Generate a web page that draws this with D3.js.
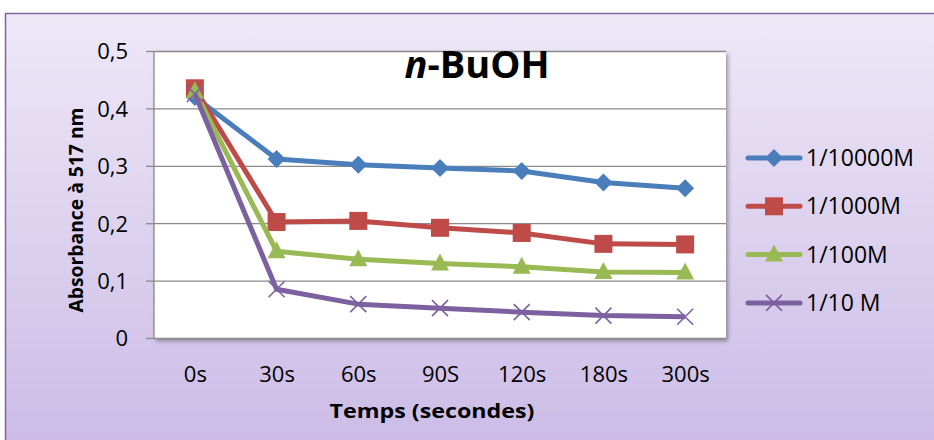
<!DOCTYPE html>
<html>
<head>
<meta charset="utf-8">
<script src="https://cdn.jsdelivr.net/npm/d3@7"></script>
<style>
  body { margin: 0; background: #fff; }
  svg text { font-family: "Open Sans", sans-serif; fill: #000; }
</style>
</head>
<body>
<svg width="934" height="440"></svg>
<script>
// categories and series
const categories = ['0s', '30s', '60s', '90S', '120s', '180s', '300s'];
const seriesNames = ['1/10000M', '1/1000M', '1/100M', '1/10 M'];
const s10000 = [0.420, 0.312, 0.302, 0.296, 0.291, 0.271, 0.261];
const s1000 = [0.435, 0.202, 0.204, 0.192, 0.183, 0.164, 0.163];
const s100 = [0.430, 0.151, 0.137, 0.130, 0.124, 0.115, 0.114];
const s10 = [0.425, 0.085, 0.059, 0.052, 0.045, 0.039, 0.037];
const yTicks = [0, 0.1, 0.2, 0.3, 0.4, 0.5];

const colors = ['#4a7ebb', '#be4b48', '#98b954', '#7d60a0'];
const shapes = ['diamond', 'square', 'triangle', 'cross'];
const allSeries = [s10000, s1000, s100, s10];

const svg = d3.select('svg');

// fond en dégradé + bordure violette
const defs = svg.append('defs');
const grad = defs.append('linearGradient').attr('id', 'bg')
  .attr('x1', 0).attr('y1', 0).attr('x2', 0).attr('y2', 1);
grad.append('stop').attr('offset', '0%').attr('stop-color', '#eee8f7');
grad.append('stop').attr('offset', '100%').attr('stop-color', '#cbbbe6');
const shadow = defs.append('filter').attr('id', 'shadow')
  .attr('x', '-5%').attr('y', '-5%').attr('width', '115%').attr('height', '115%');
shadow.append('feDropShadow').attr('dx', 2).attr('dy', 3).attr('stdDeviation', 2)
  .attr('flood-color', '#000').attr('flood-opacity', 0.35);

svg.append('rect')
  .attr('x', 5.5).attr('y', 13.5).attr('width', 940).attr('height', 440)
  .attr('fill', 'url(#bg)').attr('stroke', '#8064a2').attr('stroke-width', 1.5);

const pLeft = 154, pRight = 726, pTop = 51, pBottom = 338;

const x = d3.scalePoint().domain(categories).range([pLeft, pRight]).padding(0.5);
const y = d3.scaleLinear().domain([0, 0.5]).range([pBottom, pTop]);

// zone de tracé
svg.append('rect')
  .attr('x', pLeft).attr('y', pTop).attr('width', pRight - pLeft).attr('height', pBottom - pTop)
  .attr('fill', '#fff').attr('filter', 'url(#shadow)');

// quadrillage
svg.append('g')
  .attr('transform', `translate(${pLeft},0)`)
  .call(d3.axisLeft(y).tickValues(yTicks).tickSize(-(pRight - pLeft)).tickFormat(''))
  .call(g => g.select('.domain').remove())
  .call(g => g.selectAll('line').attr('stroke', '#8a8a8a').attr('stroke-width', 1.3));

// axe Y
const yAxis = svg.append('g')
  .attr('transform', `translate(${pLeft},0)`)
  .call(d3.axisLeft(y).tickValues(yTicks).tickSize(8).tickPadding(18)
    .tickFormat(d => d === 0 ? '0' : d3.format('.1f')(d).replace('.', ',')));
yAxis.select('.domain').attr('stroke', '#8a8a8a').attr('stroke-width', 1.3).attr('d', `M0,${pTop}V${pBottom}`);
yAxis.selectAll('line').attr('stroke', '#8a8a8a').attr('stroke-width', 1.3);
yAxis.selectAll('text').style('font-size', '22px').attr('dy', '0.36em');

// étiquettes X
svg.append('g')
  .attr('transform', `translate(0,${pBottom})`)
  .call(d3.axisBottom(x).tickSize(0).tickPadding(0))
  .call(g => g.select('.domain').remove())
  .call(g => g.selectAll('text').style('font-size', '22px').attr('y', 44).attr('dy', 0));

// séries
const line = d3.line().x((d, i) => x(categories[i])).y(d => y(d));

function marker(g, shape, color) {
  if (shape === 'diamond') {
    g.append('path').attr('d', 'M0,-9L9,0L0,9L-9,0Z').attr('fill', color);
  } else if (shape === 'square') {
    g.append('rect').attr('x', -9).attr('y', -9).attr('width', 18).attr('height', 18).attr('fill', color);
  } else if (shape === 'triangle') {
    g.append('path').attr('d', 'M0,-10L9,7L-9,7Z').attr('fill', color);
  } else {
    g.append('path').attr('d', 'M-8,-8L8,8M-8,8L8,-8').attr('stroke', color).attr('stroke-width', 1.6).attr('fill', 'none');
  }
}

allSeries.forEach((vals, k) => {
  svg.append('path')
    .datum(vals)
    .attr('d', line)
    .attr('fill', 'none')
    .attr('stroke', colors[k])
    .attr('stroke-width', 5)
    .attr('stroke-linejoin', 'round');
  vals.forEach((v, i) => {
    const g = svg.append('g').attr('transform', `translate(${x(categories[i])},${y(v)})`);
    marker(g, shapes[k], colors[k]);
  });
});

// titre
const title = svg.append('text')
  .attr('x', 477).attr('y', 78)
  .attr('text-anchor', 'middle')
  .style('font-size', '38px').style('font-weight', 'bold');
title.append('tspan').style('font-style', 'italic').text('n');
title.append('tspan').text('-BuOH');

// titres des axes
svg.append('text')
  .attr('transform', 'translate(83,210) rotate(-90)')
  .attr('text-anchor', 'middle')
  .attr('textLength', 205).attr('lengthAdjust', 'spacingAndGlyphs')
  .style('font-size', '20px').style('font-weight', 'bold')
  .text('Absorbance à 517 nm');

svg.append('text')
  .attr('x', 432).attr('y', 418)
  .attr('text-anchor', 'middle')
  .attr('textLength', 205).attr('lengthAdjust', 'spacingAndGlyphs')
  .style('font-size', '19px').style('font-weight', 'bold')
  .text('Temps (secondes)');

// légende
const legend = svg.append('g');
seriesNames.forEach((name, k) => {
  const ly = 158 + k * 48.3;
  const g = legend.append('g').attr('transform', `translate(0,${ly})`);
  g.append('line').attr('x1', 748).attr('x2', 800).attr('y1', 0).attr('y2', 0)
    .attr('stroke', colors[k]).attr('stroke-width', 5).attr('stroke-linecap', 'round');
  const m = g.append('g').attr('transform', 'translate(774,0)');
  marker(m, shapes[k], colors[k]);
  g.append('text').attr('x', 806).attr('y', 8)
    .style('font-size', '23px').text(name);
});
</script>
</body>
</html>
